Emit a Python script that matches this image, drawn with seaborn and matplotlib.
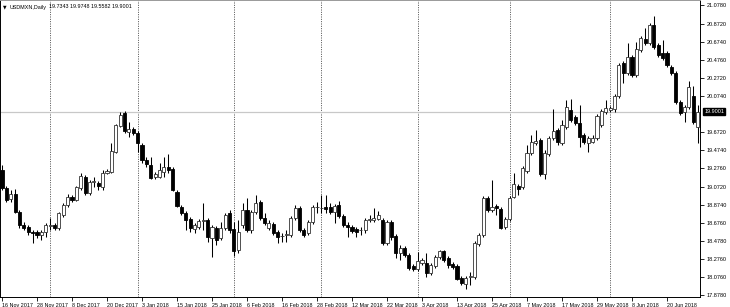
import numpy as np
import pandas as pd
import matplotlib
matplotlib.use("Agg")
import matplotlib.pyplot as plt
import matplotlib.transforms as mtransforms
import seaborn as sns

# ---------------- data (USDMXN daily, 16 Nov 2017 - 29 Jun 2018) ----------------
open_ = [19.257, 19.058, 18.937, 18.992, 18.793, 18.650, 18.628, 18.572, 18.572, 18.539,
         18.572, 18.639, 18.650, 18.617, 18.760, 18.870, 18.959, 18.926, 19.058, 19.180,
         19.003, 19.124, 19.113, 19.069, 19.224, 19.235, 19.455, 19.742, 19.886, 19.676,
         19.709, 19.665, 19.533, 19.367, 19.312, 19.180, 19.180, 19.235, 19.290, 19.268,
         19.014, 18.848, 18.782, 18.716, 18.606, 18.628, 18.694, 18.705, 18.506, 18.617,
         18.506, 18.617, 18.782, 18.606, 18.374, 18.650, 18.815, 18.595, 18.793, 18.904,
         18.727, 18.617, 18.661, 18.572, 18.528, 18.539, 18.539, 18.727, 18.837, 18.595,
         18.561, 18.683, 18.848, 18.837, 18.848, 18.848, 18.793, 18.870, 18.749, 18.650,
         18.628, 18.606, 18.595, 18.595, 18.705, 18.705, 18.716, 18.705, 18.451, 18.683,
         18.528, 18.340, 18.396, 18.318, 18.197, 18.164, 18.230, 18.230, 18.120, 18.197,
         18.296, 18.363, 18.285, 18.219, 18.197, 18.065, 17.999, 18.076, 18.076, 18.440,
         18.539, 18.948, 18.815, 18.859, 18.826, 18.628, 18.716, 18.959, 19.080, 19.069,
         19.246, 19.444, 19.555, 19.588, 19.213, 19.433, 19.610, 19.698, 19.555, 19.731,
         19.919, 19.842, 19.776, 19.643, 19.555, 19.566, 19.610, 19.753, 19.897, 19.919,
         19.930, 20.073, 20.438, 20.328, 20.504, 20.305, 20.581, 20.703, 20.659, 20.857,
         20.637, 20.548, 20.548, 20.394, 20.328, 20.007, 19.897, 19.952, 20.073, 19.7343]
high_ = [19.312, 19.080, 19.036, 19.047, 18.815, 18.683, 18.650, 18.595, 18.595, 18.595,
         18.672, 18.727, 18.672, 18.793, 18.892, 18.992, 18.981, 19.080, 19.224, 19.202,
         19.146, 19.180, 19.135, 19.257, 19.268, 19.555, 19.764, 19.897, 19.908, 19.787,
         19.731, 19.687, 19.555, 19.400, 19.400, 19.235, 19.334, 19.400, 19.433, 19.290,
         19.036, 18.870, 18.804, 18.738, 18.672, 18.716, 18.892, 18.727, 18.650, 18.639,
         18.683, 18.782, 18.815, 18.683, 18.705, 18.892, 18.948, 18.815, 18.981, 18.926,
         18.782, 18.705, 18.683, 18.595, 18.561, 18.595, 18.749, 18.870, 18.859, 18.617,
         18.705, 18.870, 18.904, 18.981, 18.981, 18.892, 18.881, 18.915, 18.771, 18.683,
         18.650, 18.628, 18.628, 18.727, 18.760, 18.837, 18.804, 18.727, 18.705, 18.705,
         18.550, 18.429, 18.418, 18.340, 18.219, 18.351, 18.285, 18.340, 18.230, 18.318,
         18.374, 18.374, 18.307, 18.241, 18.219, 18.087, 18.087, 18.131, 18.473, 18.561,
         18.970, 18.970, 19.146, 18.881, 18.848, 18.738, 18.970, 19.224, 19.102, 19.301,
         19.533, 19.643, 19.698, 19.610, 19.478, 19.632, 19.930, 19.720, 19.809, 20.029,
         20.040, 19.864, 19.974, 19.665, 19.632, 19.643, 19.875, 19.930, 20.029, 19.963,
         20.095, 20.438, 20.460, 20.659, 20.526, 20.670, 20.736, 20.824, 20.879, 20.957,
         20.659, 20.692, 20.570, 20.416, 20.350, 20.029, 19.974, 20.239, 20.184, 19.9748]
low_ = [19.036, 18.904, 18.904, 18.782, 18.617, 18.595, 18.539, 18.451, 18.506, 18.484,
        18.517, 18.595, 18.595, 18.595, 18.738, 18.848, 18.904, 18.915, 19.036, 18.981,
        18.981, 19.069, 19.036, 19.036, 19.213, 19.224, 19.444, 19.731, 19.665, 19.621,
        19.643, 19.455, 19.334, 19.290, 19.157, 19.157, 19.169, 19.180, 19.224, 19.025,
        18.848, 18.760, 18.595, 18.572, 18.561, 18.606, 18.595, 18.462, 18.296, 18.429,
        18.484, 18.595, 18.561, 18.307, 18.340, 18.617, 18.572, 18.561, 18.771, 18.705,
        18.650, 18.595, 18.539, 18.451, 18.462, 18.462, 18.517, 18.705, 18.572, 18.517,
        18.539, 18.661, 18.782, 18.782, 18.782, 18.771, 18.672, 18.727, 18.628, 18.517,
        18.561, 18.517, 18.539, 18.561, 18.683, 18.683, 18.705, 18.429, 18.429, 18.484,
        18.285, 18.263, 18.296, 18.153, 18.142, 18.142, 18.208, 18.076, 18.098, 18.175,
        18.274, 18.241, 18.175, 18.164, 18.043, 17.988, 17.943, 17.988, 18.054, 18.418,
        18.517, 18.793, 18.793, 18.760, 18.606, 18.606, 18.694, 18.948, 18.981, 19.047,
        19.224, 19.422, 19.533, 19.191, 19.157, 19.411, 19.588, 19.533, 19.533, 19.709,
        19.787, 19.753, 19.511, 19.544, 19.455, 19.555, 19.588, 19.731, 19.875, 19.897,
        19.897, 20.051, 20.217, 20.305, 20.283, 20.283, 20.559, 20.637, 20.637, 20.592,
        20.504, 20.471, 20.394, 20.305, 19.985, 19.864, 19.787, 19.930, 19.764, 19.5582]
close_ = [19.058, 18.926, 18.992, 18.793, 18.650, 18.617, 18.572, 18.561, 18.539, 18.572,
          18.650, 18.650, 18.617, 18.782, 18.870, 18.959, 18.926, 19.069, 19.191, 19.003,
          19.124, 19.130, 19.080, 19.224, 19.246, 19.466, 19.753, 19.864, 19.687, 19.709,
          19.665, 19.555, 19.367, 19.323, 19.169, 19.213, 19.257, 19.290, 19.257, 19.036,
          18.859, 18.782, 18.705, 18.617, 18.650, 18.694, 18.705, 18.517, 18.628, 18.484,
          18.617, 18.760, 18.595, 18.363, 18.572, 18.815, 18.595, 18.793, 18.892, 18.727,
          18.672, 18.672, 18.561, 18.517, 18.532, 18.550, 18.727, 18.837, 18.595, 18.539,
          18.683, 18.848, 18.852, 18.841, 18.826, 18.793, 18.859, 18.749, 18.650, 18.628,
          18.584, 18.572, 18.599, 18.705, 18.716, 18.727, 18.760, 18.451, 18.683, 18.517,
          18.340, 18.396, 18.318, 18.175, 18.164, 18.252, 18.263, 18.120, 18.208, 18.296,
          18.363, 18.263, 18.208, 18.186, 18.054, 18.010, 18.065, 18.087, 18.451, 18.539,
          18.948, 18.815, 18.848, 18.837, 18.617, 18.716, 18.948, 19.102, 19.047, 19.279,
          19.444, 19.566, 19.577, 19.213, 19.444, 19.610, 19.687, 19.566, 19.753, 19.952,
          19.809, 19.776, 19.621, 19.566, 19.610, 19.610, 19.853, 19.908, 19.941, 19.941,
          20.073, 20.416, 20.328, 20.504, 20.305, 20.592, 20.714, 20.659, 20.857, 20.614,
          20.526, 20.493, 20.416, 20.328, 20.007, 19.886, 19.952, 20.173, 19.786, 19.9001]

date_label_bars = list(range(0, 153, 8))
date_labels = ["16 Nov 2017", "28 Nov 2017", "8 Dec 2017", "20 Dec 2017", "3 Jan 2018",
               "15 Jan 2018", "25 Jan 2018", "6 Feb 2018", "16 Feb 2018", "28 Feb 2018",
               "12 Mar 2018", "22 Mar 2018", "3 Apr 2018", "13 Apr 2018", "25 Apr 2018",
               "7 May 2018", "17 May 2018", "29 May 2018", "8 Jun 2018", "20 Jun 2018"]
month_start_bars = [11, 31, 53, 73, 95, 116, 139]
price_ticks = [21.0780, 20.8720, 20.6740, 20.4760, 20.2720, 20.0740, 19.6720, 19.4740,
               19.2760, 19.0720, 18.8740, 18.6760, 18.4780, 18.2760, 18.0760, 17.8780]
price_tick_labels = ["21.0780", "20.8720", "20.6740", "20.4760", "20.2720", "20.0740",
                     "19.6720", "19.4740", "19.2760", "19.0720", "18.8740", "18.6760",
                     "18.4780", "18.2760", "18.0760", "17.8780"]
symbol = "USDMXN,Daily"
last_price = 19.9001

# ---------------- plotting ----------------
sns.set_theme(style="white")
plt.rcParams['font.family'] = ['Liberation Sans', 'DejaVu Sans']

df = pd.DataFrame({"open": open_, "high": high_, "low": low_, "close": close_})
df["bar"] = np.arange(len(df))
df["up"] = df["close"] >= df["open"]
df["body"] = np.maximum((df["close"] - df["open"]).abs(), 0.004)
df["bottom"] = df[["open", "close"]].min(axis=1)

fig = plt.figure(figsize=(7.3, 3.07), dpi=100)
ax = fig.add_axes([0.0, 10 / 307, 700 / 730, 297 / 307])
ax.set_facecolor("white")

# month separators
for b in month_start_bars:
    ax.axvline(b, color="#333333", lw=0.6, ls=(0, (1.2, 1.6)), zorder=1)

# current price line
ax.axhline(last_price, color="#c8c8c8", lw=0.9, zorder=1)

# wicks
ax.vlines(df["bar"], df["low"], df["high"], color="black", lw=0.75, zorder=2)

# bodies
up = df[df["up"]]
dn = df[~df["up"]]
ax.bar(up["bar"], up["body"], bottom=up["bottom"], width=0.7, color="white",
       edgecolor="#333333", linewidth=0.6, zorder=3)
ax.bar(dn["bar"], dn["body"], bottom=dn["bottom"], width=0.7, color="black",
       edgecolor="black", linewidth=0.6, zorder=3)

ax.set_xlim(-0.457, 159.54)
ax.set_ylim(17.855, 21.1332)

ax.set_xticks(date_label_bars)
ax.set_xticklabels(date_labels, ha="left", fontsize=3.9)
ax.tick_params(axis="x", direction="out", length=3, width=0.6, pad=1,
               bottom=True, colors="black")

ax.yaxis.tick_right()
ax.set_yticks(price_ticks)
ax.set_yticklabels(price_tick_labels, fontsize=4.0)
ax.tick_params(axis="y", direction="out", length=3, width=0.6, pad=2, right=True,
               colors="black")
ax.grid(False)

for s in ax.spines.values():
    s.set_color("black")
    s.set_linewidth(0.7)
ax.spines["top"].set_color("#999999")

# current price box on the axis
trans = mtransforms.blended_transform_factory(ax.transAxes, ax.transData)
ax.text(1.006, last_price, f"{last_price:.4f}", transform=trans, color="white",
        fontsize=4.0, va="center", ha="left",
        bbox=dict(facecolor="black", edgecolor="black", pad=0.9))

# header
fig.text(3 / 730, 1 - 7 / 307, "\u25BC", fontsize=3.3, va="center", ha="left",
         color="black", family=["DejaVu Sans"])
fig.text(10 / 730, 1 - 7 / 307, symbol, fontsize=3.9, va="center", ha="left",
         color="black")
fig.text(49 / 730, 1 - 7 / 307,
         f"{open_[-1]:.4f} {high_[-1]:.4f} {low_[-1]:.4f} {close_[-1]:.4f}",
         fontsize=3.9, va="center", ha="left", color="black")

fig.savefig("out.png", dpi=100, facecolor="white")
